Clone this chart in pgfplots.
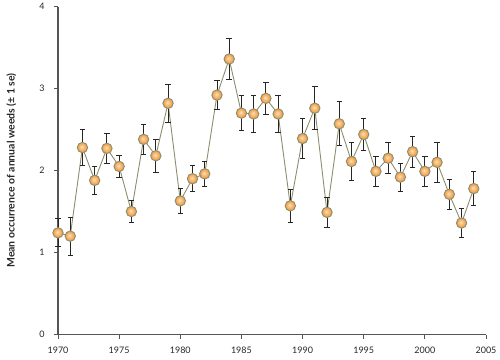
\documentclass[border=0pt]{standalone}
\usepackage{pgfplots}
\pgfplotsset{compat=1.18}
\usepackage{fontspec}
\setmainfont{Lato}
\definecolor{ballorange}{HTML}{F5AA55}
\definecolor{linecol}{HTML}{8C8C6E}
\definecolor{axiscol}{HTML}{555555}
\pgfdeclareradialshading{ball}{\pgfpoint{-4bp}{4bp}}{%
  color(0bp)=(white!70!ballorange);
  color(7bp)=(ballorange!65!white);
  color(17bp)=(ballorange);
  color(25bp)=(ballorange!93!black);
  color(50bp)=(ballorange!93!black)}
\begin{document}
\begin{tikzpicture}
\begin{axis}[
  scale only axis, width=428bp, height=328bp,
  xmin=1970, xmax=2005, ymin=0, ymax=4,
  axis lines*=left,
  axis line style={axiscol, line width=1.1pt},
  xtick={1970,1975,...,2005}, ytick={0,1,2,3,4},
  tick style={axiscol, line width=1pt},
  tick align=outside, major tick length=4bp,
  x tick label style={/pgf/number format/1000 sep={}, yshift=-5bp},
  y tick label style={xshift=-6bp},
  /pgf/number format/assume math mode=true,
  tick label style={font=\fontsize{9}{10}\selectfont, text=black!85},
  ylabel={\bfseries Mean occurrence of annual weeds (± 1 se)},
  ylabel style={font=\fontsize{10.5}{12}\selectfont, at={(axis description cs:-0.109,0.5)}, anchor=center, text=black!85},
  clip=false,
]
\addplot[linecol, line width=0.9pt, mark=ball, mark size=5.2bp,
  error bars/.cd, y dir=both, y explicit,
  error bar style={black!85, line width=0.9pt},
  error mark options={rotate=90, black!85, mark size=2.7bp, line width=0.9pt}]
table[x=x, y=y, y error=e] {
x y e
1970 1.24 0.17
1971 1.20 0.23
1972 2.28 0.22
1973 1.88 0.17
1974 2.27 0.18
1975 2.05 0.13
1976 1.50 0.13
1977 2.38 0.18
1978 2.18 0.20
1979 2.82 0.23
1980 1.63 0.15
1981 1.90 0.16
1982 1.96 0.15
1983 2.92 0.18
1984 3.36 0.25
1985 2.70 0.21
1986 2.69 0.23
1987 2.88 0.20
1988 2.69 0.23
1989 1.57 0.20
1990 2.39 0.24
1991 2.76 0.26
1992 1.49 0.18
1993 2.57 0.27
1994 2.11 0.23
1995 2.44 0.19
1996 1.99 0.18
1997 2.15 0.19
1998 1.92 0.17
1999 2.23 0.19
2000 1.99 0.18
2001 2.10 0.24
2002 1.71 0.18
2003 1.36 0.18
2004 1.78 0.21
};
\end{axis}
\path (current axis.south west) ++(-58bp,-25bp) (current axis.north east) ++(14bp,6bp);
\end{tikzpicture}
\end{document}
